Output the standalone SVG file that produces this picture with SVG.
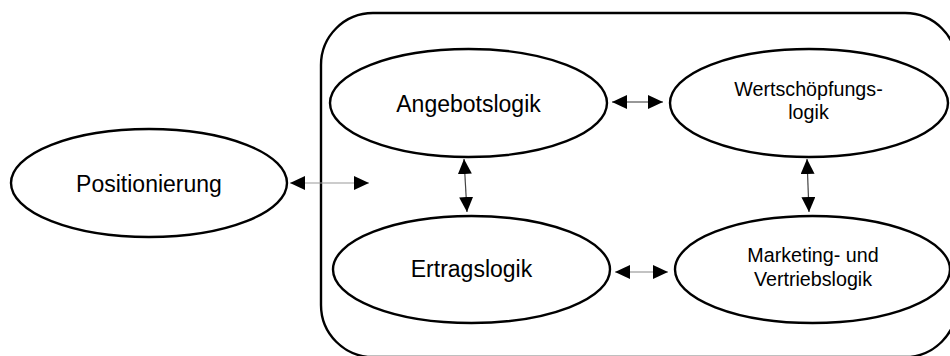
<svg xmlns="http://www.w3.org/2000/svg" width="950" height="356" viewBox="0 0 950 356">
<style>
.node{fill:#fff;stroke:#000;stroke-width:2.4}
.frame{fill:none;stroke:#000;stroke-width:2.4}
.big{font-family:"Liberation Sans",Arial,sans-serif;font-size:23px;fill:#000;text-anchor:middle}
.small{font-family:"Liberation Sans",Arial,sans-serif;font-size:19.7px;fill:#000;text-anchor:middle}
.conn{fill:none;stroke-width:1.2}
</style>
<defs>
<marker id="ah" viewBox="0 0 15 14" refX="15" refY="7" markerWidth="15" markerHeight="14" markerUnits="userSpaceOnUse" orient="auto-start-reverse">
<path d="M0,0 L15,7 L0,14 z" fill="#000"/>
</marker>
</defs>
<rect class="frame" x="321" y="13" width="636" height="344" rx="52" ry="52"/>
<g id="positionierung">
<ellipse class="node" cx="149" cy="183" rx="138" ry="54"/>
<text class="big" x="149" y="191.5">Positionierung</text>
</g>
<g id="angebotslogik">
<ellipse class="node" cx="468.5" cy="103" rx="138.5" ry="54"/>
<text class="big" x="468.5" y="111.5">Angebotslogik</text>
</g>
<g id="ertragslogik">
<ellipse class="node" cx="471.5" cy="269.5" rx="138.5" ry="53.5"/>
<text class="big" x="471.5" y="277">Ertragslogik</text>
</g>
<g id="wertschoepfungslogik">
<ellipse class="node" cx="809" cy="103" rx="139" ry="54"/>
<text class="small" x="808.5" y="96">Wertschöpfungs-</text>
<text class="small" x="808.5" y="119">logik</text>
</g>
<g id="marketing">
<ellipse class="node" cx="812.5" cy="269.5" rx="137.5" ry="53.5"/>
<text class="small" x="813" y="262">Marketing- und</text>
<text class="small" x="813" y="286">Vertriebslogik</text>
</g>
<g id="connectors">
<line class="conn" x1="290" y1="183" x2="369" y2="183" stroke="#999" marker-start="url(#ah)" marker-end="url(#ah)"/>
<line class="conn" x1="464" y1="159" x2="467" y2="212" stroke="#444" marker-start="url(#ah)" marker-end="url(#ah)"/>
<line class="conn" x1="612" y1="102" x2="663" y2="102" stroke="#333" marker-start="url(#ah)" marker-end="url(#ah)"/>
<line class="conn" x1="807" y1="159" x2="809" y2="212" stroke="#444" marker-start="url(#ah)" marker-end="url(#ah)"/>
<line class="conn" x1="615" y1="272" x2="668" y2="272" stroke="#888" marker-start="url(#ah)" marker-end="url(#ah)"/>
</g>
</svg>
